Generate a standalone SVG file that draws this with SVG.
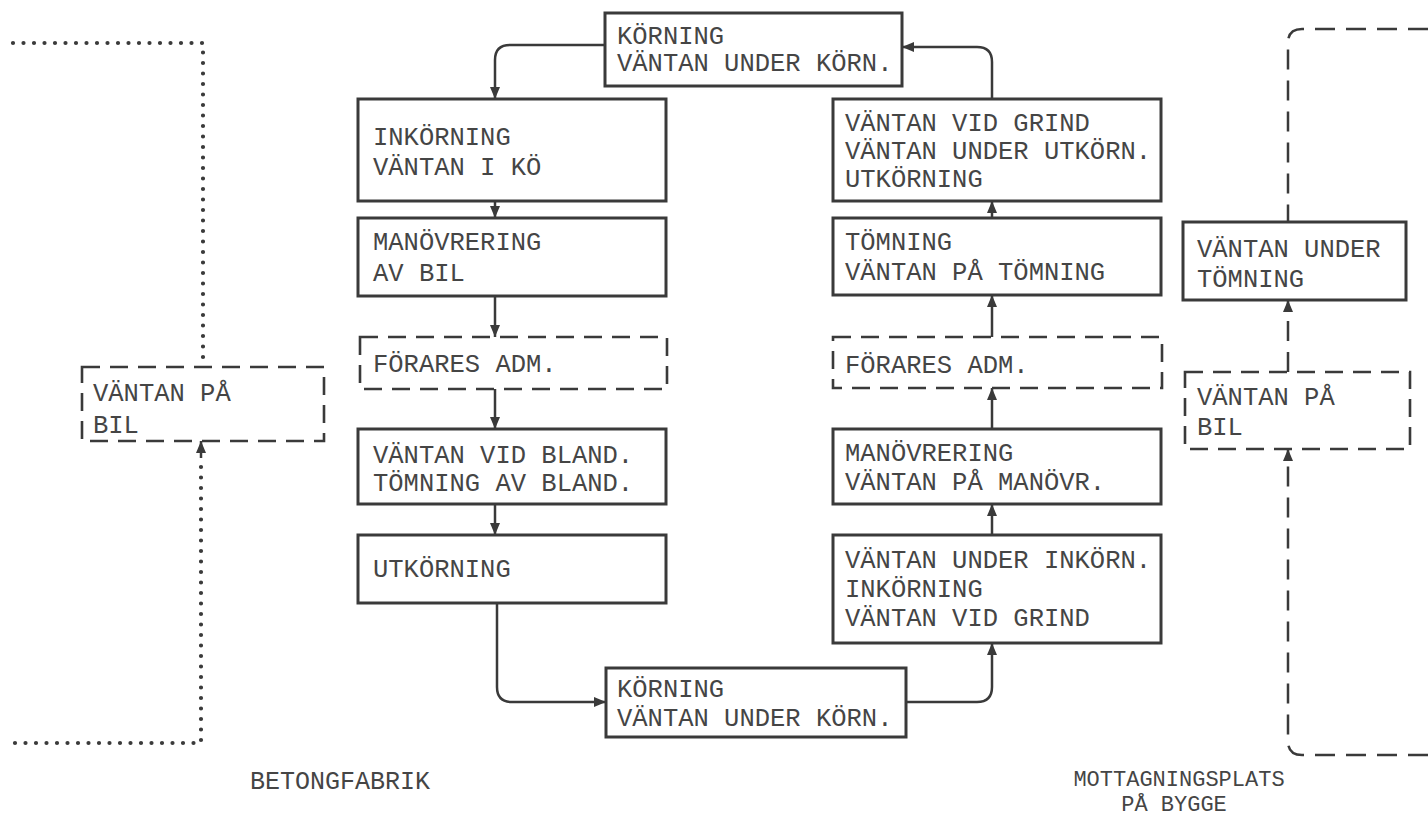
<svg xmlns="http://www.w3.org/2000/svg" width="1428" height="820" viewBox="0 0 1428 820">
<defs>
<marker id="ah" markerUnits="userSpaceOnUse" markerWidth="14" markerHeight="12" refX="12" refY="6" orient="auto">
<path d="M0,1 L12,6 L0,11 Z" fill="#3a3a3a"/>
</marker>
<style>
.box{fill:#fff;stroke:#3a3a3a;stroke-width:3}
.dbox{fill:none;stroke:#3a3a3a;stroke-width:2.6;stroke-dasharray:18 10}
.t{font-family:"Liberation Mono","DejaVu Sans Mono",monospace;font-size:25.5px;fill:#454545}
.lbl{font-family:"Liberation Mono","DejaVu Sans Mono",monospace;fill:#454545}
.c{fill:none;stroke:#3a3a3a;stroke-width:2.5}
.dash{fill:none;stroke:#3a3a3a;stroke-width:2.5;stroke-dasharray:20 11}
.dot{fill:none;stroke:#3a3a3a;stroke-width:4.2;stroke-linecap:round;stroke-dasharray:0 10.5}
</style>
</defs>
<rect width="1428" height="820" fill="#fff"/>

<g id="connectors">
<path class="c" d="M605,45 H510 Q495,45 495,60 V99" marker-end="url(#ah)"/>
<path class="c" d="M992,99 V62 Q992,47 977,47 H902" marker-end="url(#ah)"/>
<path class="c" d="M495,201 V218" marker-end="url(#ah)"/>
<path class="c" d="M495,296 V337" marker-end="url(#ah)"/>
<path class="c" d="M495,389 V429" marker-end="url(#ah)"/>
<path class="c" d="M495,504 V535" marker-end="url(#ah)"/>
<path class="c" d="M497,603 V687 Q497,702 512,702 H606" marker-end="url(#ah)"/>
<path class="c" d="M906,702 H977 Q992,702 992,687 V643" marker-end="url(#ah)"/>
<path class="c" d="M992,535 V504" marker-end="url(#ah)"/>
<path class="c" d="M992,429 V388" marker-end="url(#ah)"/>
<path class="c" d="M992,337 V295" marker-end="url(#ah)"/>
<path class="c" d="M992,218 V201" marker-end="url(#ah)"/>
<path class="dot" d="M13,43 H203 V362"/>
<path class="dot" d="M201,467 V743 H11"/>
<path class="c" d="M201,458 V441" marker-end="url(#ah)"/>
<path class="dash" d="M1428,29 H1302 Q1288,29 1288,43 V222"/>
<path class="dash" d="M1288,372 V300" marker-end="url(#ah)"/>
<path class="dash" d="M1428,755 H1302 Q1288,755 1288,741 V449" marker-end="url(#ah)"/>
</g>

<g id="top-korning">
<rect class="box" x="605" y="13" width="297" height="73"/>
<text class="t" x="617" y="44">KÖRNING</text>
<text class="t" x="617" y="71">VÄNTAN UNDER KÖRN.</text>
</g>

<g id="inkorning">
<rect class="box" x="358" y="99" width="308" height="102"/>
<text class="t" x="373" y="145">INKÖRNING</text>
<text class="t" x="373" y="175">VÄNTAN I KÖ</text>
</g>

<g id="manovrering-bil">
<rect class="box" x="358" y="218" width="308" height="78"/>
<text class="t" x="373" y="250">MANÖVRERING</text>
<text class="t" x="373" y="281">AV BIL</text>
</g>

<g id="forares-adm-1">
<rect class="dbox" x="360" y="337" width="307" height="52"/>
<text class="t" x="373" y="372">FÖRARES ADM.</text>
</g>

<g id="vantan-bland">
<rect class="box" x="358" y="429" width="308" height="75"/>
<text class="t" x="373" y="463">VÄNTAN VID BLAND.</text>
<text class="t" x="373" y="491">TÖMNING AV BLAND.</text>
</g>

<g id="utkorning-1">
<rect class="box" x="358" y="535" width="308" height="68"/>
<text class="t" x="373" y="577">UTKÖRNING</text>
</g>

<g id="bottom-korning">
<rect class="box" x="606" y="668" width="300" height="69"/>
<text class="t" x="617" y="697">KÖRNING</text>
<text class="t" x="617" y="726">VÄNTAN UNDER KÖRN.</text>
</g>

<g id="vantan-grind-ut">
<rect class="box" x="833" y="99" width="328" height="102"/>
<text class="t" x="845" y="131">VÄNTAN VID GRIND</text>
<text class="t" x="845" y="159">VÄNTAN UNDER UTKÖRN.</text>
<text class="t" x="845" y="187">UTKÖRNING</text>
</g>

<g id="tomning">
<rect class="box" x="833" y="218" width="328" height="77"/>
<text class="t" x="845" y="250">TÖMNING</text>
<text class="t" x="845" y="280">VÄNTAN PÅ TÖMNING</text>
</g>

<g id="forares-adm-2">
<rect class="dbox" x="833" y="337" width="329" height="51"/>
<text class="t" x="845" y="373">FÖRARES ADM.</text>
</g>

<g id="manovrering-2">
<rect class="box" x="833" y="429" width="328" height="75"/>
<text class="t" x="845" y="461">MANÖVRERING</text>
<text class="t" x="845" y="490">VÄNTAN PÅ MANÖVR.</text>
</g>

<g id="vantan-inkorn">
<rect class="box" x="833" y="535" width="328" height="108"/>
<text class="t" x="845" y="568">VÄNTAN UNDER INKÖRN.</text>
<text class="t" x="845" y="597">INKÖRNING</text>
<text class="t" x="845" y="626">VÄNTAN VID GRIND</text>
</g>

<g id="vantan-bil-left">
<rect class="dbox" x="82" y="367" width="242" height="74"/>
<text class="t" x="93" y="401">VÄNTAN PÅ</text>
<text class="t" x="93" y="433">BIL</text>
</g>

<g id="vantan-under-tomning">
<rect class="box" x="1183" y="222" width="223" height="78"/>
<text class="t" x="1197" y="257">VÄNTAN UNDER</text>
<text class="t" x="1197" y="287">TÖMNING</text>
</g>

<g id="vantan-bil-right">
<rect class="dbox" x="1185" y="372" width="225" height="77"/>
<text class="t" x="1197" y="405">VÄNTAN PÅ</text>
<text class="t" x="1197" y="435">BIL</text>
</g>

<g id="labels">
<text class="lbl" x="340" y="789" font-size="25" text-anchor="middle">BETONGFABRIK</text>
<text class="lbl" x="1179" y="786" font-size="22" text-anchor="middle">MOTTAGNINGSPLATS</text>
<text class="lbl" x="1174" y="811" font-size="22" text-anchor="middle">PÅ BYGGE</text>
</g>
</svg>
